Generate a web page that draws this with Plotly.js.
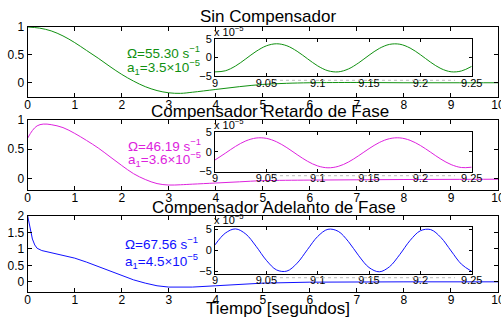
<!DOCTYPE html>
<html><head><meta charset="utf-8">
<script src="https://cdn.plot.ly/plotly-3.0.1.min.js"></script>
<style>html,body{margin:0;padding:0;background:#fff}#c{width:501px;height:320px}</style>
</head><body><div id="c"></div>
<script>
// ---- data ----
const tGreen = [0,0.25,0.5,0.75,1,1.25,1.5,1.75,2,2.25,2.5,2.75,3,3.25,3.5,4,4.5,5,5.5,6,7,8,9,10];
const yGreen = [1,0.98,0.93,0.84,0.72,0.58,0.44,0.29,0.15,0.03,-0.07,-0.14,-0.18,-0.19,-0.17,-0.12,-0.07,-0.03,-0.01,0,0.005,0,0,0];
const tMag = [0,0.1,0.2,0.33,0.5,0.75,1,1.25,1.5,1.75,2,2.25,2.5,2.75,3,3.25,3.5,4,4.5,5,6,7,8,9,10];
const yMag = [0.69,0.82,0.9,0.93,0.92,0.87,0.77,0.65,0.52,0.37,0.22,0.08,-0.02,-0.09,-0.115,-0.11,-0.1,-0.08,-0.06,-0.04,-0.03,-0.025,-0.02,-0.018,-0.015];
const tBlue = [0,0.03,0.06,0.1,0.15,0.2,0.3,0.5,0.75,1,1.25,1.5,1.75,2,2.25,2.5,2.75,3,3.25,3.5,4,4.5,5,6,7,8,10];
const yBlue = [2,1.75,1.5,1.3,1.12,1.02,0.95,0.88,0.8,0.72,0.6,0.46,0.32,0.18,0.06,-0.04,-0.12,-0.16,-0.17,-0.16,-0.12,-0.07,-0.04,-0.01,0,0,0];
// insets (units of 1e-5)
const tZoom = [9.00,9.01,9.02,9.03,9.04,9.05,9.06,9.07,9.08,9.09,9.10,9.11,9.12,9.13,9.14,9.15,9.16,9.17,9.18,9.19,9.20,9.21,9.22,9.23,9.24,9.25];
const zGreen = [-3.82,-3.54,-2.26,-0.36,1.62,3.10,3.65,3.12,1.65,-0.32,-2.23,-3.52,-3.82,-3.04,-1.41,0.60,2.41,3.49,3.53,2.52,0.75,-1.26,-2.94,-3.80,-3.58,-2.36];
const zMag = [-2.10,-0.37,1.39,2.79,3.53,3.45,2.56,1.06,-0.73,-2.41,-3.62,-4.10,-3.74,-2.62,-0.98,0.81,2.38,3.37,3.57,2.94,1.62,-0.11,-1.88,-3.28,-4.03,-3.95];
const zBlue = [1.29,4.05,5.05,3.84,0.96,-2.34,-4.62,-4.88,-3.02,0.16,3.27,4.96,4.48,2.05,-1.28,-4.04,-5.05,-3.85,-0.97,2.33,4.61,4.89,3.03,-0.15,-3.26,-4.95];
const titles = ['Sin Compensador','Compensador Retardo de Fase','Compensador Adelanto de Fase'];
const omegas = ['55.30','46.19','67.56'];
const amps = ['3.5','3.6','4.5'];
const xTicksMain = [0,1,2,3,4,5,6,7,8,9,10];
const xTicksZoom = [9,9.05,9.1,9.15,9.2,9.25];
const xTickTextZoom = ['9','9.05','9.1','9.15','9.2','9.25'];

// ---- layout helpers ----
const W = 501, H = 320;
const px = v => v / W, py = v => 1 - v / H;
const colors = ['#109010', '#dd22dd', '#1010ff'];
const FONT = 'Liberation Sans, Arial, sans-serif';

const mainY = [[27, 96.7], [120, 190], [216, 291.7]];
const insetY = [[38.7, 76.3], [132.3, 171.7], [227, 273.7]];
const mainRanges = [[-0.25, 1], [-0.2, 1], [-0.3, 2]];
const mainYTicks = [[0, 0.5, 1], [0, 0.5, 1], [0, 0.5, 1, 1.5, 2]];
const insetRanges = [[-5, 5], [-5.1, 5], [-5.5, 5.5]];
const mainTs = [tGreen, tMag, tBlue], mainVs = [yGreen, yMag, yBlue];
const zoomVs = [zGreen, zMag, zBlue];

const data = [], layout = {
  width: W, height: H, margin: {l: 0, r: 0, t: 0, b: 0},
  paper_bgcolor: '#fff', plot_bgcolor: 'rgba(0,0,0,0)', showlegend: false,
  font: {family: FONT, color: '#000', size: 12},
  annotations: [], shapes: []
};
const axBase = {showline: true, linecolor: '#000', linewidth: 1, mirror: 'ticks', ticks: 'inside',
  showgrid: false, zeroline: false, tickcolor: '#000', fixedrange: true, ticklabeloverflow: 'allow'};

for (let i = 0; i < 3; i++) {
  const m = i + 1, z = i + 4;
  const mx = m === 1 ? 'x' : 'x' + m, my = m === 1 ? 'y' : 'y' + m;
  data.push({x: mainTs[i], y: mainVs[i], xaxis: mx, yaxis: my, mode: 'lines',
    line: {color: colors[i], width: 1, shape: i === 2 ? 'linear' : 'spline'}, hoverinfo: 'skip'});
  data.push({x: tZoom, y: zoomVs[i], xaxis: 'x' + z, yaxis: 'y' + z, mode: 'lines',
    line: {color: colors[i], width: 1, shape: 'spline'}, hoverinfo: 'skip'});
  layout['xaxis' + (m === 1 ? '' : m)] = Object.assign({}, axBase, {
    domain: [px(27.7), px(498)], range: [0, 10], tickvals: xTicksMain, ticklen: 4,
    tickfont: {size: 12}, anchor: my, ticklabelstandoff: -3});
  layout['yaxis' + (m === 1 ? '' : m)] = Object.assign({}, axBase, {
    domain: [py(mainY[i][1]), py(mainY[i][0])], range: mainRanges[i], tickvals: mainYTicks[i],
    ticklen: 4, tickfont: {size: 12}, anchor: mx});
  layout['xaxis' + z] = Object.assign({}, axBase, {
    domain: [px(215), px(471.7)], range: [9, 9.25], tickvals: xTicksZoom, ticktext: xTickTextZoom,
    ticklen: 3, tickfont: {size: 11}, anchor: 'y' + z, ticklabelstandoff: -4});
  layout['yaxis' + z] = Object.assign({}, axBase, {
    domain: [py(insetY[i][1]), py(insetY[i][0])], range: insetRanges[i], tickvals: [-5, 0, 5],
    ticktext: ['\u22125', '0', '5'], ticklen: 3, tickfont: {size: 11}, anchor: 'x' + z});
  // dotted artefact under inset tick labels
  const yb = insetY[i][1] + 4;
  layout.shapes.push({type: 'line', xref: 'paper', yref: 'paper', x0: px(268), x1: px(455),
    y0: py(yb), y1: py(yb), line: {color: '#bbbbbb', width: 1, dash: 'dot'}});
  // titles
  const tc = [16, 111, 207][i], tx = [267.5, 270, 274][i];
  layout.annotations.push({text: titles[i], xref: 'paper', yref: 'paper', x: px(tx), y: py(tc),
    xanchor: 'center', yanchor: 'middle', showarrow: false, font: {size: 17}});
  // exponent label
  layout.annotations.push({text: 'x 10<sup>\u22125</sup>', xref: 'paper', yref: 'paper',
    x: px(212), y: py(insetY[i][0] + 1), xanchor: 'left', yanchor: 'bottom', showarrow: false,
    font: {size: 11}});
  // omega / amplitude texts
  const l1 = [51.7, 145, 243][i], l2 = [66.7, 159.3, 261.3][i], lx = [125, 126, 123][i];
  layout.annotations.push({text: '\u03a9=' + omegas[i] + ' s<sup>\u22121</sup>', xref: 'paper', yref: 'paper',
    x: px(lx), y: py(l1), xanchor: 'left', yanchor: 'middle', showarrow: false,
    font: {size: 13.5, color: colors[i]}});
  layout.annotations.push({text: 'a<sub>1</sub>=' + amps[i] + '\u00d710<sup>\u22125</sup>', xref: 'paper', yref: 'paper',
    x: px(lx), y: py(l2), xanchor: 'left', yanchor: 'middle', showarrow: false,
    font: {size: 13.5, color: colors[i]}});
}
layout.annotations.push({text: 'Tiempo [segundos]', xref: 'paper', yref: 'paper', x: px(278), y: py(308),
  xanchor: 'center', yanchor: 'middle', showarrow: false, font: {size: 17}});

Plotly.newPlot('c', data, layout, {staticPlot: true, displayModeBar: false});
</script></body></html>
